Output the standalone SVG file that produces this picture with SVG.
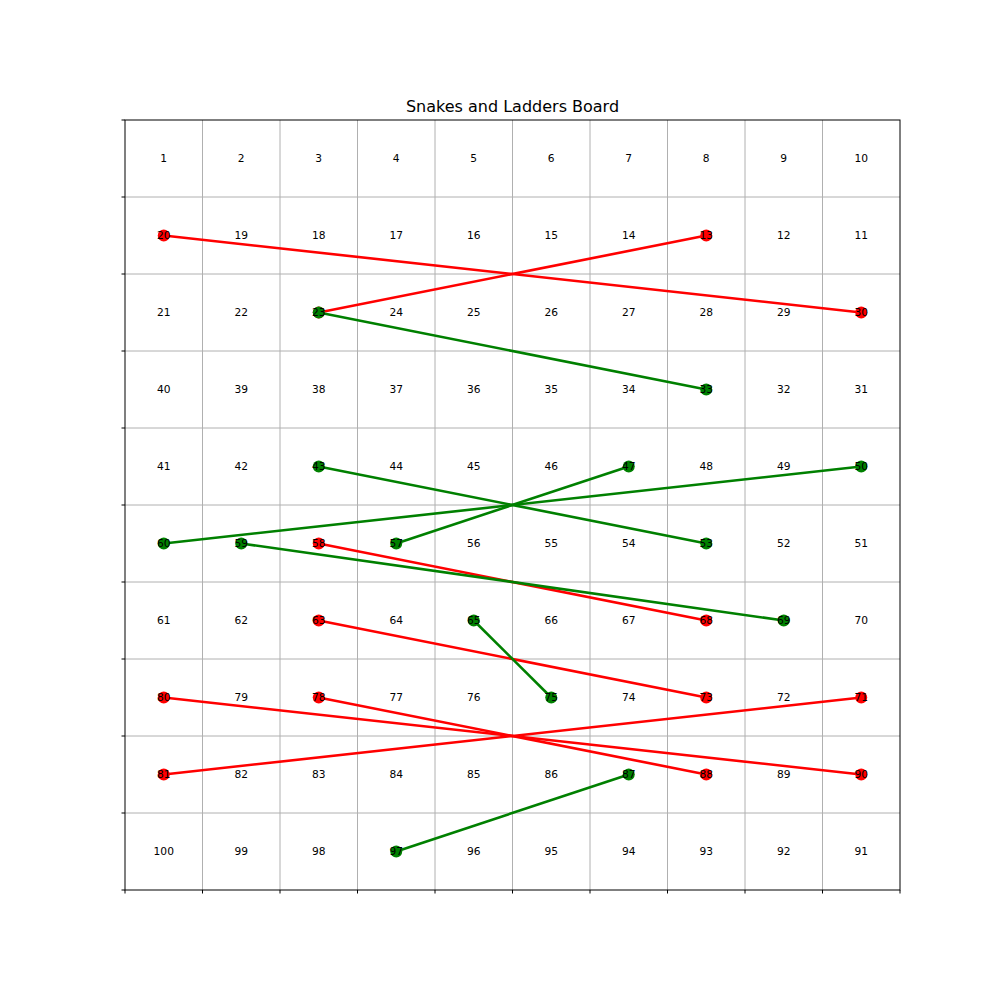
<svg xmlns="http://www.w3.org/2000/svg" width="1000" height="1000" viewBox="0 0 1000 1000">
<style>
.num{font-family:"DejaVu Sans",sans-serif;font-size:10.67px;text-anchor:middle;dominant-baseline:central;fill:#000}
.title{font-family:"DejaVu Sans",sans-serif;font-size:16px;text-anchor:middle;fill:#000}
.grid line{stroke:#b0b0b0;stroke-width:1}
.ticks line{stroke:#000;stroke-width:1}
.snake line{stroke:#ff0000;stroke-width:2.6}
.snake circle{fill:#ff0000}
.ladder line{stroke:#008000;stroke-width:2.6}
.ladder circle{fill:#008000}
</style>
<rect width="1000" height="1000" fill="#fff"/>
<text class="title" x="512.5" y="112">Snakes and Ladders Board</text>
<g class="grid">
<line x1="202.5" y1="120" x2="202.5" y2="890"/><line x1="280" y1="120" x2="280" y2="890"/><line x1="357.5" y1="120" x2="357.5" y2="890"/><line x1="435" y1="120" x2="435" y2="890"/><line x1="512.5" y1="120" x2="512.5" y2="890"/><line x1="590" y1="120" x2="590" y2="890"/><line x1="667.5" y1="120" x2="667.5" y2="890"/><line x1="745" y1="120" x2="745" y2="890"/><line x1="822.5" y1="120" x2="822.5" y2="890"/>
<line x1="125" y1="197" x2="900" y2="197"/><line x1="125" y1="274" x2="900" y2="274"/><line x1="125" y1="351" x2="900" y2="351"/><line x1="125" y1="428" x2="900" y2="428"/><line x1="125" y1="505" x2="900" y2="505"/><line x1="125" y1="582" x2="900" y2="582"/><line x1="125" y1="659" x2="900" y2="659"/><line x1="125" y1="736" x2="900" y2="736"/><line x1="125" y1="813" x2="900" y2="813"/>
</g>
<g class="ticks">
<rect x="125" y="120" width="775" height="770" fill="none" stroke="#000" stroke-width="1"/>
<line x1="121.5" y1="120" x2="125" y2="120"/><line x1="121.5" y1="197" x2="125" y2="197"/><line x1="121.5" y1="274" x2="125" y2="274"/><line x1="121.5" y1="351" x2="125" y2="351"/><line x1="121.5" y1="428" x2="125" y2="428"/><line x1="121.5" y1="505" x2="125" y2="505"/><line x1="121.5" y1="582" x2="125" y2="582"/><line x1="121.5" y1="659" x2="125" y2="659"/><line x1="121.5" y1="736" x2="125" y2="736"/><line x1="121.5" y1="813" x2="125" y2="813"/><line x1="121.5" y1="890" x2="125" y2="890"/>
<line x1="125" y1="890" x2="125" y2="893.5"/><line x1="202.5" y1="890" x2="202.5" y2="893.5"/><line x1="280" y1="890" x2="280" y2="893.5"/><line x1="357.5" y1="890" x2="357.5" y2="893.5"/><line x1="435" y1="890" x2="435" y2="893.5"/><line x1="512.5" y1="890" x2="512.5" y2="893.5"/><line x1="590" y1="890" x2="590" y2="893.5"/><line x1="667.5" y1="890" x2="667.5" y2="893.5"/><line x1="745" y1="890" x2="745" y2="893.5"/><line x1="822.5" y1="890" x2="822.5" y2="893.5"/><line x1="900" y1="890" x2="900" y2="893.5"/>
</g>
<g id="connectors">
<g id="snakes" class="snake">
<g id="snake-20-30"><line x1="163.75" y1="235.5" x2="861.25" y2="312.5"/><circle cx="163.75" cy="235.5" r="6"/><circle cx="861.25" cy="312.5" r="6"/></g>
<g id="snake-13-23"><line x1="706.25" y1="235.5" x2="318.75" y2="312.5"/><circle cx="706.25" cy="235.5" r="6"/><circle cx="318.75" cy="312.5" r="6"/></g>
<g id="snake-58-68"><line x1="318.75" y1="543.5" x2="706.25" y2="620.5"/><circle cx="318.75" cy="543.5" r="6"/><circle cx="706.25" cy="620.5" r="6"/></g>
<g id="snake-63-73"><line x1="318.75" y1="620.5" x2="706.25" y2="697.5"/><circle cx="318.75" cy="620.5" r="6"/><circle cx="706.25" cy="697.5" r="6"/></g>
<g id="snake-80-90"><line x1="163.75" y1="697.5" x2="861.25" y2="774.5"/><circle cx="163.75" cy="697.5" r="6"/><circle cx="861.25" cy="774.5" r="6"/></g>
<g id="snake-78-88"><line x1="318.75" y1="697.5" x2="706.25" y2="774.5"/><circle cx="318.75" cy="697.5" r="6"/><circle cx="706.25" cy="774.5" r="6"/></g>
<g id="snake-71-81"><line x1="861.25" y1="697.5" x2="163.75" y2="774.5"/><circle cx="861.25" cy="697.5" r="6"/><circle cx="163.75" cy="774.5" r="6"/></g>
</g>
<g id="ladders" class="ladder">
<g id="ladder-23-33"><line x1="318.75" y1="312.5" x2="706.25" y2="389.5"/><circle cx="318.75" cy="312.5" r="6"/><circle cx="706.25" cy="389.5" r="6"/></g>
<g id="ladder-43-53"><line x1="318.75" y1="466.5" x2="706.25" y2="543.5"/><circle cx="318.75" cy="466.5" r="6"/><circle cx="706.25" cy="543.5" r="6"/></g>
<g id="ladder-47-57"><line x1="628.75" y1="466.5" x2="396.25" y2="543.5"/><circle cx="628.75" cy="466.5" r="6"/><circle cx="396.25" cy="543.5" r="6"/></g>
<g id="ladder-50-60"><line x1="861.25" y1="466.5" x2="163.75" y2="543.5"/><circle cx="861.25" cy="466.5" r="6"/><circle cx="163.75" cy="543.5" r="6"/></g>
<g id="ladder-59-69"><line x1="241.25" y1="543.5" x2="783.75" y2="620.5"/><circle cx="241.25" cy="543.5" r="6"/><circle cx="783.75" cy="620.5" r="6"/></g>
<g id="ladder-65-75"><line x1="473.75" y1="620.5" x2="551.25" y2="697.5"/><circle cx="473.75" cy="620.5" r="6"/><circle cx="551.25" cy="697.5" r="6"/></g>
<g id="ladder-87-97"><line x1="628.75" y1="774.5" x2="396.25" y2="851.5"/><circle cx="628.75" cy="774.5" r="6"/><circle cx="396.25" cy="851.5" r="6"/></g>
</g>
</g>
<g id="cells">
<text class="num" x="163.75" y="158.5">1</text><text class="num" x="241.25" y="158.5">2</text><text class="num" x="318.75" y="158.5">3</text><text class="num" x="396.25" y="158.5">4</text><text class="num" x="473.75" y="158.5">5</text><text class="num" x="551.25" y="158.5">6</text><text class="num" x="628.75" y="158.5">7</text><text class="num" x="706.25" y="158.5">8</text><text class="num" x="783.75" y="158.5">9</text><text class="num" x="861.25" y="158.5">10</text>
<text class="num" x="163.75" y="235.5">20</text><text class="num" x="241.25" y="235.5">19</text><text class="num" x="318.75" y="235.5">18</text><text class="num" x="396.25" y="235.5">17</text><text class="num" x="473.75" y="235.5">16</text><text class="num" x="551.25" y="235.5">15</text><text class="num" x="628.75" y="235.5">14</text><text class="num" x="706.25" y="235.5">13</text><text class="num" x="783.75" y="235.5">12</text><text class="num" x="861.25" y="235.5">11</text>
<text class="num" x="163.75" y="312.5">21</text><text class="num" x="241.25" y="312.5">22</text><text class="num" x="318.75" y="312.5">23</text><text class="num" x="396.25" y="312.5">24</text><text class="num" x="473.75" y="312.5">25</text><text class="num" x="551.25" y="312.5">26</text><text class="num" x="628.75" y="312.5">27</text><text class="num" x="706.25" y="312.5">28</text><text class="num" x="783.75" y="312.5">29</text><text class="num" x="861.25" y="312.5">30</text>
<text class="num" x="163.75" y="389.5">40</text><text class="num" x="241.25" y="389.5">39</text><text class="num" x="318.75" y="389.5">38</text><text class="num" x="396.25" y="389.5">37</text><text class="num" x="473.75" y="389.5">36</text><text class="num" x="551.25" y="389.5">35</text><text class="num" x="628.75" y="389.5">34</text><text class="num" x="706.25" y="389.5">33</text><text class="num" x="783.75" y="389.5">32</text><text class="num" x="861.25" y="389.5">31</text>
<text class="num" x="163.75" y="466.5">41</text><text class="num" x="241.25" y="466.5">42</text><text class="num" x="318.75" y="466.5">43</text><text class="num" x="396.25" y="466.5">44</text><text class="num" x="473.75" y="466.5">45</text><text class="num" x="551.25" y="466.5">46</text><text class="num" x="628.75" y="466.5">47</text><text class="num" x="706.25" y="466.5">48</text><text class="num" x="783.75" y="466.5">49</text><text class="num" x="861.25" y="466.5">50</text>
<text class="num" x="163.75" y="543.5">60</text><text class="num" x="241.25" y="543.5">59</text><text class="num" x="318.75" y="543.5">58</text><text class="num" x="396.25" y="543.5">57</text><text class="num" x="473.75" y="543.5">56</text><text class="num" x="551.25" y="543.5">55</text><text class="num" x="628.75" y="543.5">54</text><text class="num" x="706.25" y="543.5">53</text><text class="num" x="783.75" y="543.5">52</text><text class="num" x="861.25" y="543.5">51</text>
<text class="num" x="163.75" y="620.5">61</text><text class="num" x="241.25" y="620.5">62</text><text class="num" x="318.75" y="620.5">63</text><text class="num" x="396.25" y="620.5">64</text><text class="num" x="473.75" y="620.5">65</text><text class="num" x="551.25" y="620.5">66</text><text class="num" x="628.75" y="620.5">67</text><text class="num" x="706.25" y="620.5">68</text><text class="num" x="783.75" y="620.5">69</text><text class="num" x="861.25" y="620.5">70</text>
<text class="num" x="163.75" y="697.5">80</text><text class="num" x="241.25" y="697.5">79</text><text class="num" x="318.75" y="697.5">78</text><text class="num" x="396.25" y="697.5">77</text><text class="num" x="473.75" y="697.5">76</text><text class="num" x="551.25" y="697.5">75</text><text class="num" x="628.75" y="697.5">74</text><text class="num" x="706.25" y="697.5">73</text><text class="num" x="783.75" y="697.5">72</text><text class="num" x="861.25" y="697.5">71</text>
<text class="num" x="163.75" y="774.5">81</text><text class="num" x="241.25" y="774.5">82</text><text class="num" x="318.75" y="774.5">83</text><text class="num" x="396.25" y="774.5">84</text><text class="num" x="473.75" y="774.5">85</text><text class="num" x="551.25" y="774.5">86</text><text class="num" x="628.75" y="774.5">87</text><text class="num" x="706.25" y="774.5">88</text><text class="num" x="783.75" y="774.5">89</text><text class="num" x="861.25" y="774.5">90</text>
<text class="num" x="163.75" y="851.5">100</text><text class="num" x="241.25" y="851.5">99</text><text class="num" x="318.75" y="851.5">98</text><text class="num" x="396.25" y="851.5">97</text><text class="num" x="473.75" y="851.5">96</text><text class="num" x="551.25" y="851.5">95</text><text class="num" x="628.75" y="851.5">94</text><text class="num" x="706.25" y="851.5">93</text><text class="num" x="783.75" y="851.5">92</text><text class="num" x="861.25" y="851.5">91</text>
</g>
</svg>
